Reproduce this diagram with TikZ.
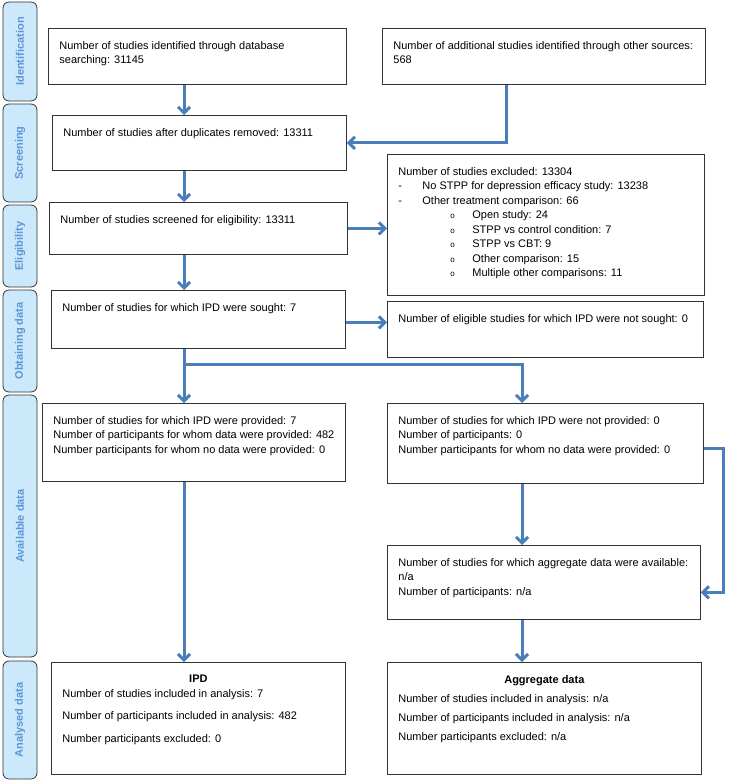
\documentclass[tikz,border=0pt]{standalone}
\usepackage{fontspec}
\setmainfont{Liberation Sans}
\usepackage{xcolor}
\usetikzlibrary{arrows.meta}
\definecolor{flowblue}{HTML}{4A7EBB}
\definecolor{stagefill}{HTML}{CCE8FB}
\definecolor{stagetext}{HTML}{5B96D6}
\definecolor{boxline}{HTML}{333333}
\tikzset{
    flow-box/.style = {draw=boxline, fill=white, line width=0.8pt, rectangle, anchor=north west, inner xsep=11pt, inner ysep=13pt},
    stage-label/.style = {draw=boxline, fill=stagefill, line width=0.8pt, rectangle, rounded corners=6pt, rotate=90, minimum height=34pt, inner sep=0pt, text=stagetext, font=\fontsize{11}{13}\selectfont\bfseries},
    flow-arrow/.style = {draw=flowblue, line width=3pt, -{Straight Barb[length=6pt,width=12pt]}},
}

\begin{document}
\begin{tikzpicture}[x=1pt, y=-1pt, font=\fontsize{11}{14.5}\selectfont]
\useasboundingbox (0,0) rectangle (729,781);

% stages on the left
\node[stage-label, minimum width=99pt] (st-ident) at (20,51.5) {Identification};
\node[stage-label, minimum width=98pt] (st-screen) at (20,153) {Screening};
\node[stage-label, minimum width=82pt] (st-elig) at (20,246) {Eligibility};
\node[stage-label, minimum width=102pt] (st-obtain) at (20,341) {Obtaining data};
\node[stage-label, minimum width=262pt] (st-avail) at (20,526) {Available data};
\node[stage-label, minimum width=118pt] (st-anal) at (20,720) {Analysed data};

% boxes
\node[flow-box] (db) at (48,28) {\begin{minipage}[t][30pt][t]{276pt}\raggedright
    Number of studies identified through database\\
    searching: 31145
\end{minipage}};
\node[flow-box] (other) at (382,28) {\begin{minipage}[t][30pt][t]{301pt}\raggedright
    Number of additional studies identified through other sources:\\
    568
\end{minipage}};
\node[flow-box] (dup) at (52,115) {\begin{minipage}[t][29pt][t]{272pt}\raggedright
    Number of studies after duplicates removed: 13311
\end{minipage}};
\node[flow-box] (elig) at (49,202) {\begin{minipage}[t][26pt][t]{276pt}\raggedright
    Number of studies screened for eligibility: 13311
\end{minipage}};
\node[flow-box] (excl) at (387,154) {\begin{minipage}[t][115pt][t]{295pt}\raggedright
    Number of studies excluded: 13304\\
    \makebox[24pt][l]{-}No STPP for depression efficacy study: 13238\\
    \makebox[24pt][l]{-}Other treatment comparison: 66\\
    \hspace*{52pt}\makebox[22pt][l]{\footnotesize o}Open study: 24\\
    \hspace*{52pt}\makebox[22pt][l]{\footnotesize o}STPP vs control condition: 7\\
    \hspace*{52pt}\makebox[22pt][l]{\footnotesize o}STPP vs CBT: 9\\
    \hspace*{52pt}\makebox[22pt][l]{\footnotesize o}Other comparison: 15\\
    \hspace*{52pt}\makebox[22pt][l]{\footnotesize o}Multiple other comparisons: 11
\end{minipage}};
\node[flow-box] (sought) at (51,290) {\begin{minipage}[t][32pt][t]{272pt}\raggedright
    Number of studies for which IPD were sought: 7
\end{minipage}};
\node[flow-box] (notsought) at (387,301) {\begin{minipage}[t][30pt][t]{294pt}\raggedright
    Number of eligible studies for which IPD were not sought: 0
\end{minipage}};
\node[flow-box] (ipdprov) at (42,403) {\begin{minipage}[t][52pt][t]{281pt}\raggedright
    Number of studies for which IPD were provided: 7\\
    Number of participants for whom data were provided: 482\\
    Number participants for whom no data were provided: 0
\end{minipage}};
\node[flow-box] (ipdnot) at (387,403) {\begin{minipage}[t][54pt][t]{294pt}\raggedright
    Number of studies for which IPD were not provided: 0\\
    Number of participants: 0\\
    Number participants for whom no data were provided: 0
\end{minipage}};
\node[flow-box] (aggav) at (387,545) {\begin{minipage}[t][48pt][t]{291pt}\raggedright
    Number of studies for which aggregate data were available:\\
    n/a\\
    Number of participants: n/a
\end{minipage}};
\node[flow-box] (ipdana) at (51,662) {\begin{minipage}[t][86pt][t]{272pt}
    \centering\textbf{IPD}\par\raggedright
    Number of studies included in analysis: 7\\[8pt]
    Number of participants included in analysis: 482\\[8pt]
    Number participants excluded: 0
\end{minipage}};
\node[flow-box] (agg) at (387,662) {\begin{minipage}[t][86pt][t]{292pt}
    \centering\textbf{Aggregate data}\par\vspace{4.5pt}\raggedright
    Number of studies included in analysis: n/a\\[4.5pt]
    Number of participants included in analysis: n/a\\[4.5pt]
    Number participants excluded: n/a
\end{minipage}};

% columns for the arrows
\coordinate (left-col) at (184,0);
\coordinate (right-col) at (522,0);
\coordinate (src-col) at (506,0);
\coordinate (split) at (184,364);

% connectors
\draw[flow-arrow] (left-col |- db.south) -- (left-col |- dup.north);
\draw[flow-arrow] (src-col |- other.south) |- (dup.east);
\draw[flow-arrow] (left-col |- dup.south) -- (left-col |- elig.north);
\draw[flow-arrow] (elig.east) -- (elig.east -| excl.west);
\draw[flow-arrow] (left-col |- elig.south) -- (left-col |- sought.north);
\draw[flow-arrow] ([yshift=-3pt]sought.east) -- ([yshift=-3pt]sought.east -| notsought.west);
\draw[flow-arrow] (left-col |- sought.south) -- (left-col |- ipdprov.north);
\draw[flow-arrow] (split) -| (right-col |- ipdnot.north);
\draw[flow-arrow] (right-col |- ipdnot.south) -- (right-col |- aggav.north);
\draw[flow-arrow] ([yshift=-5pt]ipdnot.east) -- ++(20,0) |- ([yshift=-10pt]aggav.east);
\draw[flow-arrow] (left-col |- ipdprov.south) -- (left-col |- ipdana.north);
\draw[flow-arrow] (right-col |- aggav.south) -- (right-col |- agg.north);
\end{tikzpicture}
\end{document}
